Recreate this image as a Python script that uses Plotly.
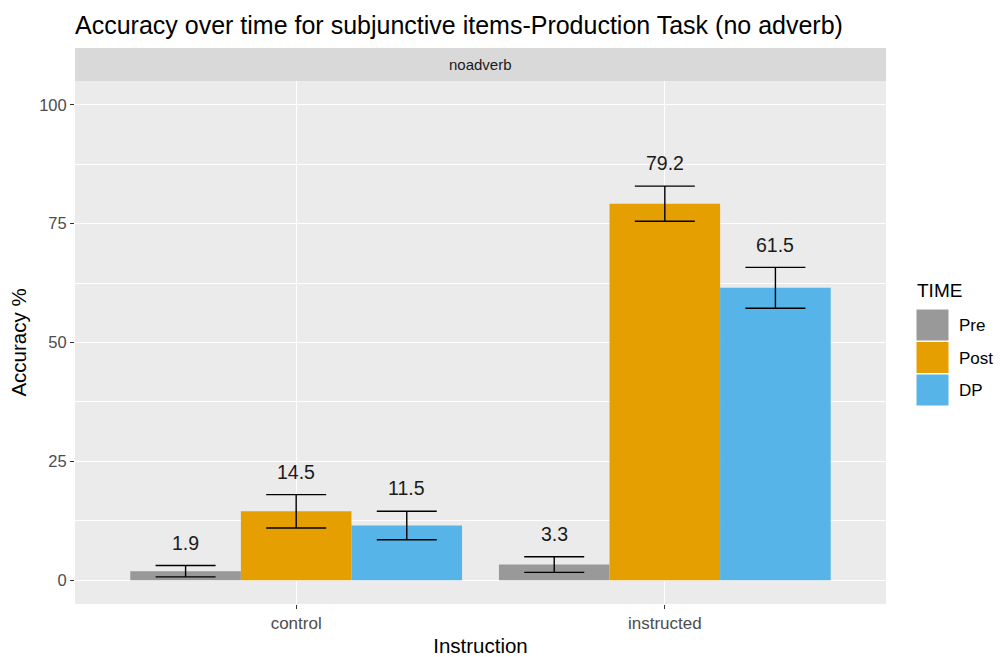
import plotly.graph_objects as go

# Data
instruction = ["control", "instructed"]
times = ["Pre", "Post", "DP"]
pre_acc = [1.9, 3.3]
post_acc = [14.5, 79.2]
dp_acc = [11.5, 61.5]
pre_se = [1.2, 1.65]
post_se = [3.5, 3.7]
dp_se = [3.0, 4.3]
colors = {"Pre": "#999999", "Post": "#E69F00", "DP": "#56B4E9"}

series = {"Pre": (pre_acc, pre_se), "Post": (post_acc, post_se), "DP": (dp_acc, dp_se)}
FONT = "Liberation Sans, Arial, sans-serif"

fig = go.Figure()
for t in times:
    vals, se = series[t]
    fig.add_trace(go.Bar(
        name=t, x=instruction, y=vals,
        marker=dict(color=colors[t], line=dict(width=0)),
        error_y=dict(type="data", array=se, visible=True, color="black",
                     thickness=1.4, width=30),
        showlegend=False,
    ))

# value labels above each error bar
offsets = {"Pre": -0.3, "Post": 0.0, "DP": 0.3}
for t in times:
    vals, se = series[t]
    for i, (v, e) in enumerate(zip(vals, se)):
        fig.add_annotation(x=i + offsets[t], y=v + e + 4.8, text=f"{v:.1f}",
                           showarrow=False, xref="x", yref="y",
                           font=dict(family=FONT, size=19.5, color="#1A1A1A"))

# facet strip
fig.add_shape(type="rect", xref="paper", yref="paper", x0=0, x1=1, y0=1.0, y1=1.0631,
              fillcolor="#D9D9D9", line=dict(width=0), layer="below")
fig.add_annotation(xref="paper", yref="paper", x=0.5, y=1.0316, text="noadverb",
                   yanchor="middle", showarrow=False,
                   font=dict(family=FONT, size=15, color="#1A1A1A"))

# legend drawn as keys beside the panel
L, T, PH = 75, 81, 523  # plot-area left/top/height in pixels
PW = 811
def px_x(px):
    return (px - L) / PW
def px_y(py):
    return (T + PH - py) / PH

fig.add_annotation(xref="paper", yref="paper", x=px_x(915), y=px_y(290), text="TIME",
                   xanchor="left", yanchor="middle", showarrow=False,
                   font=dict(family=FONT, size=19, color="black"))
for k, t in enumerate(times):
    top = 309 + k * 32.5
    fig.add_shape(type="rect", xref="paper", yref="paper",
                  x0=px_x(916), x1=px_x(949), y0=px_y(top + 32), y1=px_y(top),
                  fillcolor=colors[t], line=dict(color="white", width=1))
    fig.add_annotation(xref="paper", yref="paper", x=px_x(957), y=px_y(top + 16.5),
                       text=t, xanchor="left", yanchor="middle", showarrow=False,
                       font=dict(family=FONT, size=17, color="black"))

fig.update_layout(
    width=1000, height=657,
    margin=dict(l=L, r=1000 - L - PW, t=T, b=657 - T - PH, autoexpand=False),
    paper_bgcolor="white", plot_bgcolor="#EBEBEB",
    barmode="group", bargap=0.1, bargroupgap=0,
    font=dict(family=FONT),
    title=dict(text="Accuracy over time for subjunctive items-Production Task (no adverb)",
               x=L / 1000, xanchor="left", y=1 - 25 / 657, yanchor="middle",
               font=dict(family=FONT, size=25, color="black")),
    showlegend=False,
)
fig.update_xaxes(
    range=[-0.6, 1.6], showgrid=True, gridcolor="white", gridwidth=1.1,
    ticks="outside", ticklen=4, tickcolor="#333333", tickwidth=1,
    tickfont=dict(family=FONT, size=17, color="#4D4D4D"),
    title=dict(text="Instruction", font=dict(family=FONT, size=20.5, color="black"), standoff=8),
    zeroline=False, showline=False, automargin=False,
)
fig.update_yaxes(
    range=[-5, 105], tickvals=[0, 25, 50, 75, 100],
    showgrid=True, gridcolor="white", gridwidth=1.1,
    minor=dict(tickvals=[12.5, 37.5, 62.5, 87.5], showgrid=True, gridcolor="white",
               gridwidth=0.55, ticks=""),
    ticks="outside", ticklen=4, tickcolor="#333333", tickwidth=1,
    tickfont=dict(family=FONT, size=16.5, color="#4D4D4D"),
    title=dict(text="Accuracy %", font=dict(family=FONT, size=20.5, color="black"), standoff=6),
    zeroline=False, showline=False, automargin=False,
)

fig.write_html("out.html")
